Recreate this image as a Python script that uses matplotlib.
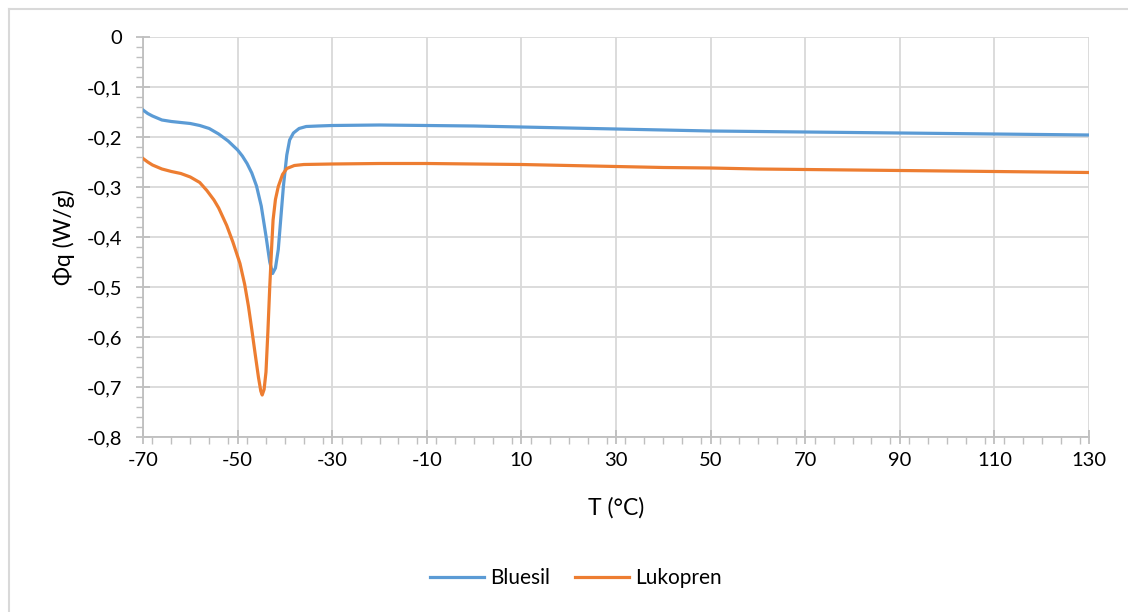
"""DSC curves: heat flow vs temperature for Bluesil and Lukopren."""

import matplotlib

matplotlib.use("Agg")
import matplotlib.pyplot as plt  # noqa: E402
from matplotlib.lines import Line2D  # noqa: E402
from matplotlib.ticker import FuncFormatter, MultipleLocator  # noqa: E402

plt.rcParams["font.family"] = ["Lato", "DejaVu Sans"]

# Bluesil: temperature (°C) and heat flow (W/g)
bluesil_t = [-70, -69, -68, -67, -66, -64, -62, -60, -58, -56, -54, -52,
             -50, -49, -48, -47, -46, -45, -44, -43.2, -42.6, -42.0, -41.4,
             -40.8, -40.3, -39.6, -39, -38.2, -37, -35.5, -33, -30, -20,
             -10, 0, 10, 20, 30, 40, 50, 60, 70, 80, 90, 100, 110, 120, 130]
bluesil_q = [-0.146, -0.153, -0.158, -0.162, -0.166, -0.169, -0.171, -0.173,
             -0.177, -0.183, -0.194, -0.208, -0.226, -0.238, -0.253, -0.272,
             -0.298, -0.338, -0.398, -0.450, -0.473, -0.462, -0.425, -0.355,
             -0.297, -0.236, -0.206, -0.192, -0.183, -0.179, -0.178, -0.177,
             -0.176, -0.177, -0.178, -0.180, -0.182, -0.184, -0.186, -0.188,
             -0.189, -0.190, -0.191, -0.192, -0.193, -0.194, -0.195, -0.196]

# Lukopren
lukopren_t = [-70, -69, -68, -66, -64, -62, -60, -58, -56.5, -55, -54, -52.3,
              -51, -49.5, -48.5, -47.7, -47, -46.3, -45.6, -45.1, -44.8,
              -44.4, -44.0, -43.6, -43.2, -42.8, -42.5, -42, -41.4, -40.5,
              -39.6, -38, -36, -30, -20, -10, 0, 10, 20, 30, 40, 50, 60, 70,
              80, 90, 100, 110, 120, 130]
lukopren_q = [-0.243, -0.250, -0.256, -0.264, -0.269, -0.273, -0.280, -0.291,
              -0.307, -0.326, -0.342, -0.377, -0.410, -0.453, -0.495, -0.539,
              -0.585, -0.633, -0.680, -0.708, -0.716, -0.705, -0.670, -0.590,
              -0.499, -0.420, -0.366, -0.325, -0.299, -0.275, -0.263, -0.257,
              -0.255, -0.254, -0.253, -0.253, -0.254, -0.255, -0.257, -0.259,
              -0.261, -0.262, -0.264, -0.265, -0.266, -0.267, -0.268, -0.269,
              -0.270, -0.271]

x_ticks = list(range(-70, 131, 20))
y_ticks = [0, -0.1, -0.2, -0.3, -0.4, -0.5, -0.6, -0.7, -0.8]

BLUE = "#5b9bd5"
ORANGE = "#ed7d31"
AXIS_GRAY = "#bfbfbf"
GRID_GRAY = "#d9d9d9"

fig = plt.figure(figsize=(11.28, 6.12), dpi=100)
ax = fig.add_axes([143 / 1128, 1 - 437 / 612, 946 / 1128, 400 / 612])

# chart-area frame (only top and left edges are visible in the crop)
fig.add_artist(Line2D([8.5 / 1128, 1], [1 - 8.5 / 612] * 2,
                      transform=fig.transFigure, color=GRID_GRAY, lw=1.5))
fig.add_artist(Line2D([8.5 / 1128] * 2, [0, 1 - 8.5 / 612],
                      transform=fig.transFigure, color=GRID_GRAY, lw=1.5))

ax.plot(bluesil_t, bluesil_q, color=BLUE, lw=2.3, label="Bluesil",
        solid_joinstyle="round", zorder=3)
ax.plot(lukopren_t, lukopren_q, color=ORANGE, lw=2.3, label="Lukopren",
        solid_joinstyle="round", zorder=3)

ax.set_xlim(-70, 130)
ax.set_ylim(-0.8, 0)
ax.set_xticks(x_ticks)
ax.set_yticks(y_ticks)
ax.xaxis.set_minor_locator(MultipleLocator(4))
ax.yaxis.set_minor_locator(MultipleLocator(0.02))

comma = FuncFormatter(lambda v, _: f"{v:g}".replace(".", ",") if abs(v) > 1e-9 else "0")
ax.yaxis.set_major_formatter(comma)
ax.xaxis.set_major_formatter(FuncFormatter(lambda v, _: f"{v:g}"))

ax.grid(which="major", color=GRID_GRAY, lw=1.3, zorder=0)
for side in ("top", "right"):
    ax.spines[side].set_visible(False)
for side in ("left", "bottom"):
    ax.spines[side].set_color(AXIS_GRAY)
    ax.spines[side].set_linewidth(1.3)

ax.tick_params(which="major", direction="inout", length=10, width=1.3,
               color=AXIS_GRAY, labelsize=14.5, labelcolor="black")
ax.tick_params(which="minor", direction="out", length=5, width=1.0,
               color=AXIS_GRAY)
ax.tick_params(axis="y", which="major", pad=10)
ax.tick_params(axis="x", which="major", pad=6)

ax.set_xlabel("T (°C)", fontsize=16.5)
ax.xaxis.set_label_coords(0.5, (437 - 497) / 400, transform=ax.transAxes)
ax.set_ylabel("Φq (W/g)", fontsize=16.5)
ax.yaxis.set_label_coords((75 - 143) / 946, 0.5, transform=ax.transAxes)

fig.legend(loc="center", bbox_to_anchor=(576 / 1128, 1 - 578 / 612),
           ncol=2, frameon=False, fontsize=15, handlelength=2.6,
           handletextpad=0.3, columnspacing=1.2)

fig.savefig("out.png", dpi=100)
plt.close(fig)
